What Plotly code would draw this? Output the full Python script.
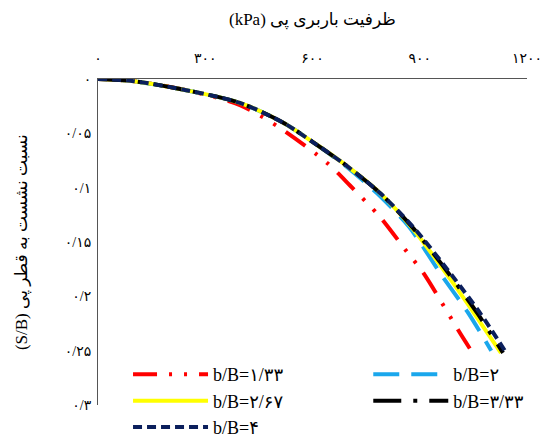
import plotly.graph_objects as go

# ---- data ----
x_tick_vals = [0, 300, 600, 900, 1200]
x_tick_text = ["۰", "۳۰۰", "۶۰۰", "۹۰۰", "۱۲۰۰"]
y_tick_vals = [0, 0.05, 0.1, 0.15, 0.2, 0.25, 0.3]
y_tick_text = ["۰", "۰/۰۵", "۰/۱", "۰/۱۵", "۰/۲", "۰/۲۵", "۰/۳"]

red_x = [0, 100, 257, 397, 509, 640, 705, 789, 864, 909, 1013, 1040]
red_y = [0, 0.002, 0.011, 0.024, 0.045, 0.077, 0.098, 0.127, 0.159, 0.178, 0.234, 0.248]

blue_x = [0, 100, 257, 397, 517, 601, 696, 780, 870, 960, 1035, 1100]
blue_y = [0, 0.002, 0.011, 0.022, 0.040, 0.058, 0.081, 0.105, 0.136, 0.180, 0.215, 0.250]

yellow_x = [0, 100, 257, 397, 517, 601, 696, 789, 881, 985, 1055, 1127]
yellow_y = [0, 0.002, 0.011, 0.022, 0.040, 0.058, 0.080, 0.105, 0.138, 0.184, 0.217, 0.252]

black_x = [0, 100, 257, 397, 517, 601, 696, 789, 881, 990, 1062, 1133]
black_y = [0, 0.002, 0.011, 0.022, 0.040, 0.058, 0.080, 0.105, 0.137, 0.183, 0.216, 0.252]

navy_x = [0, 100, 257, 397, 517, 601, 696, 789, 881, 993, 1068, 1142]
navy_y = [0, 0.002, 0.011, 0.022, 0.040, 0.058, 0.080, 0.105, 0.136, 0.182, 0.215, 0.252]

names = ["b/B=۱/۳۳", "b/B=۲", "b/B=۲/۶۷", "b/B=۳/۳۳", "b/B=۴"]

SERIF = "Liberation Serif, Times New Roman, DejaVu Sans, serif"

series = [
    (red_x, red_y, names[0], "#FF0000", "24px,12px,3px,12px,3px,12px", "legend"),
    (blue_x, blue_y, names[1], "#1AA7EC", "26px,12px", "legend2"),
    (yellow_x, yellow_y, names[2], "#FFFF00", "solid", "legend"),
    (black_x, black_y, names[3], "#000000", "28px,12px,4px,12px", "legend2"),
    (navy_x, navy_y, names[4], "#0B1F5C", "9px,5px", "legend"),
]

fig = go.Figure()
for xs, ys, nm, col, dash, lg in series:
    fig.add_trace(go.Scatter(
        x=xs, y=ys, name=nm, mode="lines",
        line=dict(color=col, width=4, dash=dash, shape="spline", smoothing=0.8),
        legend=lg,
    ))

fig.update_layout(
    width=550, height=441,
    margin=dict(l=98, r=23, t=79, b=36, autoexpand=False),
    paper_bgcolor="white", plot_bgcolor="white",
    font=dict(family=SERIF, color="black"),
    xaxis=dict(
        range=[0, 1200], side="top", showgrid=False, zeroline=False,
        showline=True, linecolor="#555555", linewidth=1,
        tickmode="array", tickvals=x_tick_vals, ticktext=x_tick_text,
        tickfont=dict(size=14, family=SERIF), ticks="", ticklabelstandoff=9,
    ),
    yaxis=dict(
        range=[0.3, 0], showgrid=False, zeroline=False,
        showline=True, linecolor="#555555", linewidth=1,
        tickmode="array", tickvals=y_tick_vals, ticktext=y_tick_text,
        tickfont=dict(size=14, family=SERIF), ticks="", ticklabelstandoff=3,
    ),
    legend=dict(
        orientation="v", x=0.07, y=0.15, xanchor="left", yanchor="top",
        bgcolor="rgba(0,0,0,0)", itemwidth=75,
        font=dict(size=18, family=SERIF),
    ),
    legend2=dict(
        orientation="v", x=0.63, y=0.15, xanchor="left", yanchor="top",
        bgcolor="rgba(0,0,0,0)", itemwidth=75,
        font=dict(size=18, family=SERIF),
    ),
    annotations=[
        dict(text="(kPa) ظرفیت باربری پی", xref="paper", yref="paper",
             x=0.5, y=1.181, xanchor="center", yanchor="middle",
             showarrow=False, font=dict(size=17, family=SERIF)),
        dict(text="(S/B) نسبت نشست به قطر پی", xref="paper", yref="paper",
             x=-0.177, y=0.5, xanchor="center", yanchor="middle",
             textangle=-90, showarrow=False, font=dict(size=17, family=SERIF)),
    ],
)

fig.write_html("out.html")
